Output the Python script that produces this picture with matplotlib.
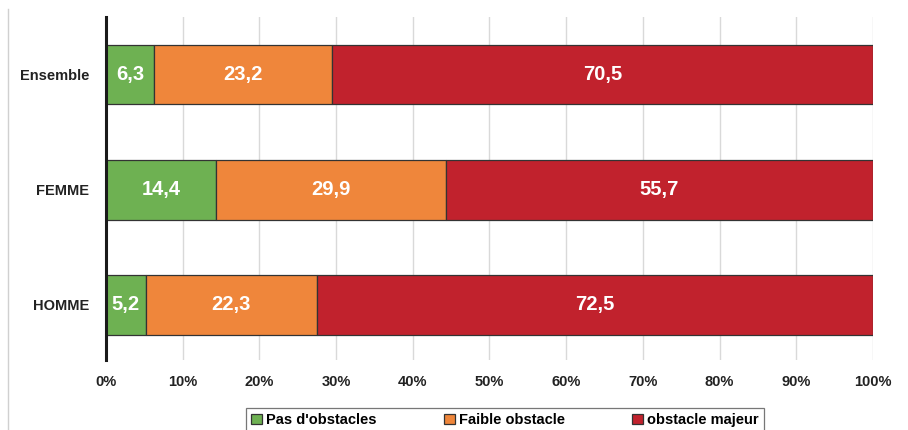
import numpy as np
import matplotlib.pyplot as plt
from matplotlib.lines import Line2D

plt.rcParams['font.family'] = ['Liberation Sans', 'DejaVu Sans']

# data
categories = ['Ensemble', 'FEMME', 'HOMME']
series_names = ["Pas d'obstacles", 'Faible obstacle', 'obstacle majeur']
pas_obstacles = [6.3, 14.4, 5.2]
faible_obstacle = [23.2, 29.9, 22.3]
obstacle_majeur = [70.5, 55.7, 72.5]
colors = ['#6eb152', '#ef863b', '#c1222d']
xticks = [0, 10, 20, 30, 40, 50, 60, 70, 80, 90, 100]

fig = plt.figure(figsize=(9.08, 4.30), dpi=100)
ax = fig.add_axes([0.1167, 0.1628, 0.8447, 0.7977])

y = np.arange(len(categories))
left = np.zeros(len(categories))
for name, vals, col in zip(series_names, [pas_obstacles, faible_obstacle, obstacle_majeur], colors):
    vals = np.array(vals)
    ax.barh(y, vals, left=left, height=0.52, color=col, edgecolor='#333333',
            linewidth=0.9, label=name, zorder=3)
    for yi, l, v in zip(y, left, vals):
        ax.text(l + v / 2, yi, f'{v:.1f}'.replace('.', ','), ha='center', va='center',
                color='white', fontsize=14.5, fontweight='bold', zorder=4)
    left += vals

ax.set_xlim(0, 100)
ax.set_ylim(2.48, -0.5)
ax.set_yticks(y)
ax.set_yticklabels(categories, fontsize=10.5, fontweight='bold', color='#222222')
ax.set_xticks(xticks)
ax.set_xticklabels([f'{t}%' for t in xticks], fontsize=10.5, fontweight='bold', color='#222222')
ax.tick_params(axis='both', length=0)
ax.tick_params(axis='y', pad=12)
ax.tick_params(axis='x', pad=11)

ax.grid(axis='x', color='#d9d9d9', linewidth=1, zorder=0)
for s in ['top', 'right', 'bottom']:
    ax.spines[s].set_visible(False)
ax.spines['left'].set_linewidth(2.2)
ax.spines['left'].set_color('#1a1a1a')
ax.spines['left'].set_zorder(5)

leg = fig.legend(loc='upper center', bbox_to_anchor=(0.556, 0.0512), ncol=3,
                 frameon=True, fancybox=False, edgecolor='#555555',
                 prop={'weight': 'bold', 'size': 10.5}, handlelength=0.75,
                 handleheight=0.75, handletextpad=0.3, columnspacing=4.6,
                 borderpad=0.35, borderaxespad=0)
leg.get_frame().set_linewidth(0.9)
for h in leg.legend_handles:
    h.set_edgecolor('#333333')

# thin border line on the left of the picture
fig.add_artist(Line2D([8 / 908, 8 / 908], [0, 0.98], color='#d0d0d0', linewidth=1))

fig.savefig('out.png', dpi=100)
